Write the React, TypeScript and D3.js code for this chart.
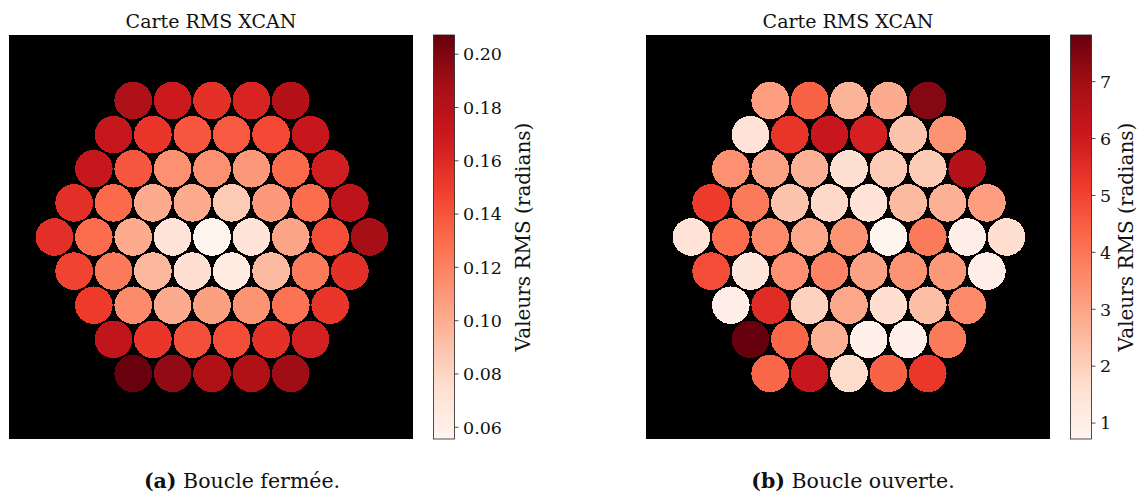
import React from "react";
import * as d3 from "d3";

// Matplotlib "Reds" colormap anchors
const redsStops = ["#fff5f0", "#fee0d2", "#fcbba1", "#fc9272", "#fb6a4a", "#ef3b2c", "#cb181d", "#a50f15", "#67000d"];

// Closed loop RMS values (radians), hexagonal rows top to bottom
const closedRow0 = [0.184, 0.169, 0.156, 0.163, 0.181];
const closedRow1 = [0.172, 0.153, 0.139, 0.138, 0.145, 0.171];
const closedRow2 = [0.172, 0.139, 0.113, 0.113, 0.109, 0.131, 0.166];
const closedRow3 = [0.157, 0.131, 0.101, 0.101, 0.086, 0.109, 0.130, 0.177];
const closedRow4 = [0.157, 0.130, 0.101, 0.071, 0.056, 0.071, 0.104, 0.143, 0.188];
const closedRow5 = [0.147, 0.124, 0.095, 0.075, 0.065, 0.094, 0.124, 0.156];
const closedRow6 = [0.151, 0.116, 0.101, 0.106, 0.112, 0.127, 0.153];
const closedRow7 = [0.175, 0.153, 0.142, 0.143, 0.156, 0.165];
const closedRow8 = [0.207, 0.194, 0.183, 0.183, 0.190];
const closedDomain = [0.0556, 0.2072];
const closedTicks = [0.06, 0.08, 0.10, 0.12, 0.14, 0.16, 0.18, 0.20];

// Open loop RMS values (radians)
const openRow0 = [3.13, 4.41, 2.64, 2.85, 7.39];
const openRow1 = [1.5, 5.34, 6.12, 5.83, 2.28, 3.35];
const openRow2 = [3.42, 3.06, 2.71, 1.61, 2.14, 2.14, 6.61];
const openRow3 = [5.19, 3.92, 2.28, 1.79, 1.5, 2.5, 2.71, 3.13];
const openRow4 = [1.5, 4.2, 3.56, 2.92, 3.35, 0.79, 3.92, 1.0, 1.64];
const openRow5 = [4.84, 1.36, 3.42, 3.7, 3.06, 3.35, 3.28, 1.0];
const openRow6 = [1.0, 5.55, 1.93, 2.92, 1.64, 2.42, 3.56];
const openRow7 = [7.82, 4.34, 2.71, 0.93, 0.93, 3.92];
const openRow8 = [4.34, 6.19, 1.71, 4.41, 5.26];
const openDomain = [0.72, 7.82];
const openTicks = [1, 2, 3, 4, 5, 6, 7];

const closedRows = [closedRow0, closedRow1, closedRow2, closedRow3, closedRow4, closedRow5, closedRow6, closedRow7, closedRow8];
const openRows = [openRow0, openRow1, openRow2, openRow3, openRow4, openRow5, openRow6, openRow7, openRow8];

const titleText = "Carte RMS XCAN";
const cbLabel = "Valeurs RMS (radians)";

const reds = d3
  .scaleLinear<string>()
  .domain(d3.range(redsStops.length).map((i) => i / (redsStops.length - 1)))
  .range(redsStops)
  .interpolate(d3.interpolateRgb)
  .clamp(true);

const SERIF = "'DejaVu Serif', serif";
const SIZE = 404;
const TOP = 35;
const SPACING = 39.4;
const RADIUS = 18.8;

type PanelProps = {
  id: string;
  x0: number;
  rows: number[][];
  domain: number[];
  ticks: number[];
  fmt: (v: number) => string;
  captionBold: string;
  captionRest: string;
  captionX: number;
  labelOffset: number;
};

function Panel({ id, x0, rows, domain, ticks, fmt, captionBold, captionRest, captionX, labelOffset }: PanelProps) {
  const cx = 203;
  const cy = 202;
  const xs = d3.scaleLinear().domain([-cx / SPACING, (SIZE - cx) / SPACING]).range([x0, x0 + SIZE]);
  const ys = d3.scaleLinear().domain([-cy / SPACING, (SIZE - cy) / SPACING]).range([TOP, TOP + SIZE]);
  const norm = d3.scaleLinear().domain(domain).range([0, 1]);
  const rPx = xs(RADIUS / SPACING) - xs(0);
  const mid = (rows.length - 1) / 2;
  const circles = rows.flatMap((row, i) =>
    row.map((v, j) => ({
      x: xs(j - (row.length - 1) / 2),
      y: ys((i - mid) * Math.sqrt(3) / 2),
      v,
    }))
  );

  const cbX = x0 + 424.5;
  const cbW = 21;
  const cbTop = TOP;
  const cbBot = TOP + SIZE;
  const cbScale = d3.scaleLinear().domain(domain).range([cbBot, cbTop]);
  const gradStops = d3.range(0, 1.0001, 0.02);

  return (
    <g>
      <defs>
        <linearGradient id={`grad-${id}`} x1="0" y1="1" x2="0" y2="0">
          {gradStops.map((t) => (
            <stop key={t} offset={t} stopColor={reds(t)} />
          ))}
        </linearGradient>
      </defs>
      <text x={x0 + SIZE / 2} y={28} textAnchor="middle" fontFamily={SERIF} fontSize={19} fill="#111">
        {titleText}
      </text>
      <rect x={x0} y={TOP} width={SIZE} height={SIZE} fill="#000" />
      {circles.map((c, k) => (
        <circle key={k} cx={c.x} cy={c.y} r={rPx} fill={reds(norm(c.v))} shapeRendering="crispEdges" />
      ))}
      <rect x={cbX} y={cbTop} width={cbW} height={cbBot - cbTop} fill={`url(#grad-${id})`} stroke="#222" strokeWidth={0.8} />
      {ticks.map((t) => (
        <g key={t} transform={`translate(${cbX + cbW},${cbScale(t)})`}>
          <line x1={0} x2={4} y1={0} y2={0} stroke="#222" strokeWidth={0.8} />
          <text x={8.5} y={0} dy="0.36em" fontFamily={SERIF} fontSize={17.5} fill="#111">
            {fmt(t)}
          </text>
        </g>
      ))}
      <text
        transform={`translate(${cbX + cbW + labelOffset},${(cbTop + cbBot) / 2}) rotate(-90)`}
        textAnchor="middle"
        fontFamily={SERIF}
        fontSize={20}
        fill="#111"
      >
        {cbLabel}
      </text>
      <text x={captionX} y={488} textAnchor="middle" fontFamily={SERIF} fontSize={20.5} fill="#111">
        <tspan fontWeight="bold">{captionBold}</tspan>
        <tspan>{captionRest}</tspan>
      </text>
    </g>
  );
}

export default function App() {
  return (
    <div style={{ position: "absolute", left: 0, top: 0 }}>
      <svg width={1143} height={495} style={{ display: "block", background: "#fff" }}>
        <Panel
          id="a"
          x0={9}
          rows={closedRows}
          domain={closedDomain}
          ticks={closedTicks}
          fmt={d3.format(".2f")}
          captionBold="(a)"
          captionRest=" Boucle fermée."
          captionX={242}
          labelOffset={75}
        />
        <Panel
          id="b"
          x0={646}
          rows={openRows}
          domain={openDomain}
          ticks={openTicks}
          fmt={d3.format("d")}
          captionBold="(b)"
          captionRest=" Boucle ouverte."
          captionX={853}
          labelOffset={41}
        />
      </svg>
    </div>
  );
}
